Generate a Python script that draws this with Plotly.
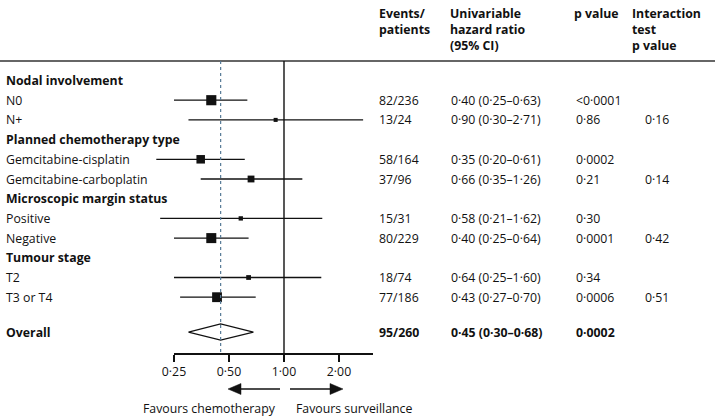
import math
import plotly.graph_objects as go

# ---------------- data ----------------
row_labels = ["Nodal involvement", "N0", "N+",
              "Planned chemotherapy type", "Gemcitabine-cisplatin", "Gemcitabine-carboplatin",
              "Microscopic margin status", "Positive", "Negative",
              "Tumour stage", "T2", "T3 or T4"]
is_header = [True, False, False, True, False, False, True, False, False, True, False, False]
events = [None, 82, 13, None, 58, 37, None, 15, 80, None, 18, 77]
patients = [None, 236, 24, None, 164, 96, None, 31, 229, None, 74, 186]
hr = [None, 0.40, 0.90, None, 0.35, 0.66, None, 0.58, 0.40, None, 0.64, 0.43]
hr_lo = [None, 0.25, 0.30, None, 0.20, 0.35, None, 0.21, 0.25, None, 0.25, 0.27]
hr_hi = [None, 0.63, 2.71, None, 0.61, 1.26, None, 1.62, 0.64, None, 1.60, 0.70]
p_values = ["", "<0·0001", "0·86", "", "0·0002", "0·21", "", "0·30", "0·0001", "", "0·34", "0·0006"]
interaction_p = ["", "", "0·16", "", "", "0·14", "", "", "0·42", "", "", "0·51"]

overall_label = "Overall"
overall_events, overall_patients = 95, 260
overall_hr, overall_lo, overall_hi = 0.45, 0.30, 0.68
overall_p = "0·0002"

tick_vals = [0.25, 0.5, 1.0, 2.0]
tick_text = ["0·25", "0·50", "1·00", "2·00"]
col_headers = ["Events/<br>patients", "Univariable<br>hazard ratio<br>(95% CI)", "p value",
               "Interaction<br>test<br>p value"]

# ---------------- layout helpers ----------------
W, H = 715, 416
X1_PX, PX_PER_DOUBLING = 284.0, 55.0     # pixel of HR=1 and pixels per doubling
ROW0_PX, ROW_STEP = 80.5, 19.7
OVERALL_ROW = 12.77

def log10_at_px(px):
    return (px - X1_PX) / PX_PER_DOUBLING * math.log10(2)

def py(px):  # pixel y -> paper y
    return 1 - px / H

def pxx(px):  # pixel x -> paper x
    return px / W

FONT = "Open Sans"
FS = 12.3
BLACK = "#111111"

fig = go.Figure()

# CI lines and squares
for i in range(len(row_labels)):
    if hr[i] is None:
        continue
    fig.add_trace(go.Scatter(x=[hr_lo[i], hr_hi[i]], y=[i, i], mode="lines",
                             line=dict(color=BLACK, width=1.3), hoverinfo="skip",
                             showlegend=False))
    fig.add_trace(go.Scatter(x=[hr[i]], y=[i], mode="markers",
                             marker=dict(symbol="square", color=BLACK,
                                         size=1.12 * math.sqrt(events[i]), line=dict(width=0)),
                             hoverinfo="skip", showlegend=False))

# overall diamond
dh = 0.41
fig.add_trace(go.Scatter(x=[overall_lo, overall_hr, overall_hi, overall_hr, overall_lo],
                         y=[OVERALL_ROW, OVERALL_ROW - dh, OVERALL_ROW, OVERALL_ROW + dh, OVERALL_ROW],
                         mode="lines", fill="toself", fillcolor="white",
                         line=dict(color=BLACK, width=1.2), hoverinfo="skip", showlegend=False))

# invisible trace for the tick axis
fig.add_trace(go.Scatter(x=tick_vals, y=[0] * len(tick_vals), xaxis="x2", mode="markers",
                         marker=dict(opacity=0), hoverinfo="skip", showlegend=False))

def fmt(v):
    return f"{v:.2f}".replace(".", "·")

ann = []
col_x = [377, 449, 574, 643]
for i, lab in enumerate(row_labels):
    txt = f"<b>{lab}</b>" if is_header[i] else lab
    ann.append(dict(x=pxx(4), y=i, xref="paper", yref="y", text=txt, showarrow=False,
                    xanchor="left", yanchor="middle"))
    if hr[i] is not None:
        ann.append(dict(x=pxx(col_x[0]), y=i, xref="paper", yref="y",
                        text=f"{events[i]}/{patients[i]}", showarrow=False,
                        xanchor="left", yanchor="middle"))
        ann.append(dict(x=pxx(col_x[1]), y=i, xref="paper", yref="y",
                        text=f"{fmt(hr[i])} ({fmt(hr_lo[i])}–{fmt(hr_hi[i])})", showarrow=False,
                        xanchor="left", yanchor="middle"))
    if p_values[i]:
        ann.append(dict(x=pxx(col_x[2]), y=i, xref="paper", yref="y", text=p_values[i],
                        showarrow=False, xanchor="left", yanchor="middle"))
    if interaction_p[i]:
        ann.append(dict(x=pxx(col_x[3]), y=i, xref="paper", yref="y", text=interaction_p[i],
                        showarrow=False, xanchor="left", yanchor="middle"))

# overall row
ann.append(dict(x=pxx(4), y=OVERALL_ROW, xref="paper", yref="y", text=f"<b>{overall_label}</b>",
                showarrow=False, xanchor="left", yanchor="middle"))
ann.append(dict(x=pxx(col_x[0]), y=OVERALL_ROW, xref="paper", yref="y",
                text=f"<b>{overall_events}/{overall_patients}</b>", showarrow=False,
                xanchor="left", yanchor="middle"))
ann.append(dict(x=pxx(col_x[1]), y=OVERALL_ROW, xref="paper", yref="y",
                text=f"<b>{fmt(overall_hr)} ({fmt(overall_lo)}–{fmt(overall_hi)})</b>",
                showarrow=False, xanchor="left", yanchor="middle"))
ann.append(dict(x=pxx(col_x[2]), y=OVERALL_ROW, xref="paper", yref="y",
                text=f"<b>{overall_p}</b>", showarrow=False, xanchor="left", yanchor="middle"))

# column headers
hdr_x = [377, 448, 572, 630]
for hx, ht in zip(hdr_x, col_headers):
    ann.append(dict(x=pxx(hx), y=py(3), xref="paper", yref="paper", text=f"<b>{ht}</b>",
                    showarrow=False, xanchor="left", yanchor="top", align="left"))

# favours labels
ann.append(dict(x=pxx(278), y=py(408), xref="paper", yref="paper", text="Favours chemotherapy",
                showarrow=False, xanchor="right", yanchor="middle"))
ann.append(dict(x=pxx(294), y=py(408), xref="paper", yref="paper", text="Favours surveillance",
                showarrow=False, xanchor="left", yanchor="middle"))

for a in ann:
    a.setdefault("font", dict(family=FONT, size=FS, color=BLACK))

shapes = []
# top rule
shapes.append(dict(type="line", xref="paper", yref="paper", x0=0, x1=1, y0=py(61), y1=py(61),
                   line=dict(color="#333333", width=1.6)))
# line of no effect
shapes.append(dict(type="line", xref="x", yref="paper", x0=1, x1=1, y0=py(61), y1=py(353),
                   line=dict(color=BLACK, width=1.4)))
# overall effect dashed line
shapes.append(dict(type="line", xref="x", yref="paper", x0=overall_hr, x1=overall_hr,
                   y0=py(61), y1=py(353), layer="above",
                   line=dict(color="#557a96", width=1.2, dash="3px,3px")))
# arrows
ay = py(389)
hh = 5.5 / H
shapes.append(dict(type="line", xref="paper", yref="paper", x0=pxx(280), x1=pxx(238), y0=ay, y1=ay,
                   line=dict(color=BLACK, width=1.5)))
shapes.append(dict(type="path", xref="paper", yref="paper",
                   path=f"M {pxx(228)} {ay} L {pxx(241)} {ay + hh} L {pxx(241)} {ay - hh} Z",
                   fillcolor=BLACK, line=dict(color=BLACK, width=0.5)))
shapes.append(dict(type="line", xref="paper", yref="paper", x0=pxx(290), x1=pxx(333), y0=ay, y1=ay,
                   line=dict(color=BLACK, width=1.5)))
shapes.append(dict(type="path", xref="paper", yref="paper",
                   path=f"M {pxx(343)} {ay} L {pxx(330)} {ay + hh} L {pxx(330)} {ay - hh} Z",
                   fillcolor=BLACK, line=dict(color=BLACK, width=0.5)))

fig.update_layout(
    width=W, height=H, margin=dict(l=0, r=0, t=0, b=0, pad=0, autoexpand=False),
    paper_bgcolor="white", plot_bgcolor="rgba(0,0,0,0)",
    font=dict(family=FONT, size=FS, color=BLACK),
    xaxis=dict(type="log", range=[log10_at_px(0), log10_at_px(W)], domain=[0, 1],
               visible=False, fixedrange=True, automargin=False),
    xaxis2=dict(type="log", range=[log10_at_px(174), log10_at_px(373)],
                domain=[pxx(174), pxx(373)], anchor="free", position=py(353),
                showline=True, linecolor=BLACK, linewidth=1.5, automargin=False,
                ticks="outside", ticklen=7, tickwidth=1.5, tickcolor=BLACK,
                tickvals=tick_vals, ticktext=tick_text, showgrid=False, zeroline=False,
                tickfont=dict(family=FONT, size=FS, color=BLACK), fixedrange=True),
    yaxis=dict(range=[(H - ROW0_PX) / ROW_STEP, -ROW0_PX / ROW_STEP], domain=[0, 1],
               visible=False, fixedrange=True, automargin=False),
    annotations=ann, shapes=shapes, showlegend=False, hovermode=False,
)

# the page body has a default 8px margin; remove it so the figure sits at the window origin
fig.write_html("out.html", config={"displayModeBar": False, "staticPlot": True},
               post_script="document.body.style.margin='0px';")
